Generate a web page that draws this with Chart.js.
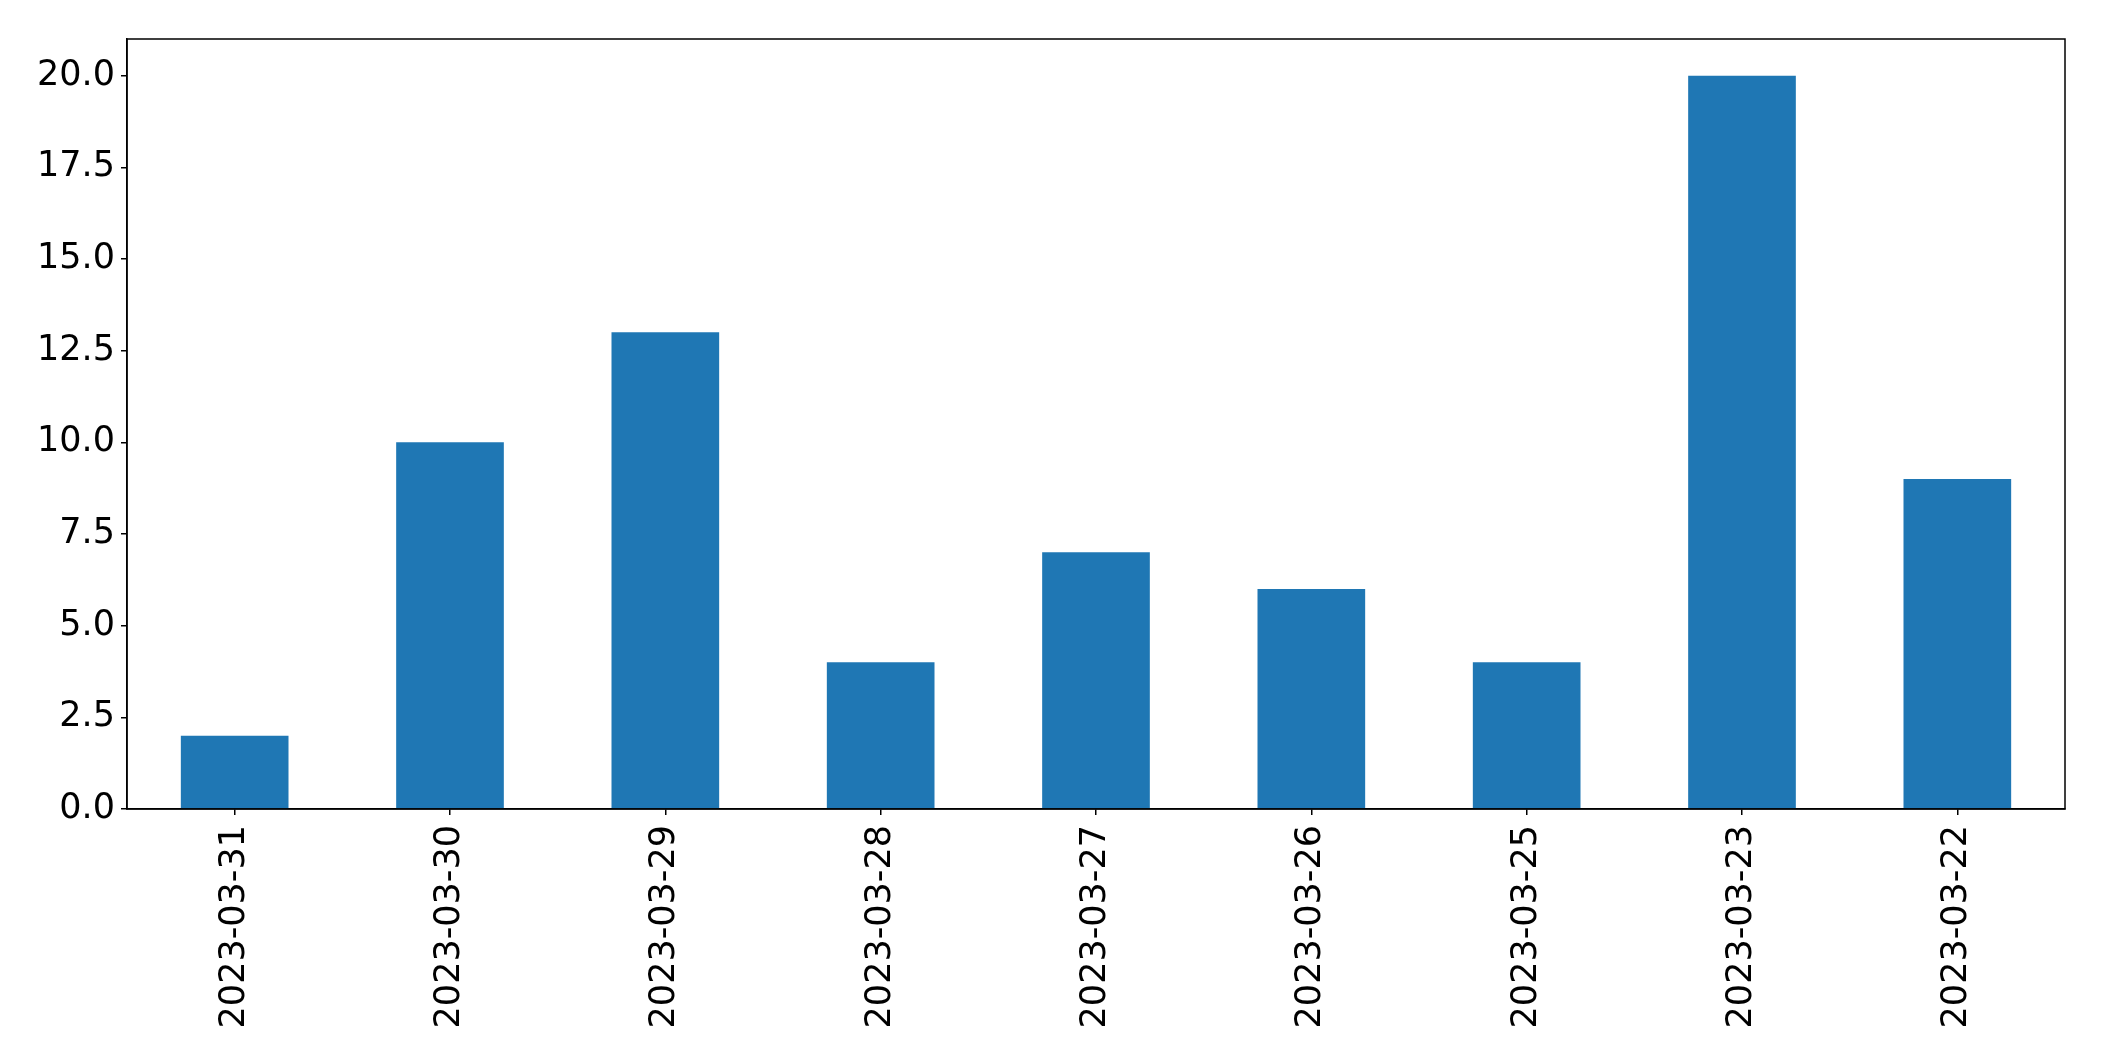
<!DOCTYPE html>
<html>
<head>
<meta charset="utf-8">
<script src="https://cdn.jsdelivr.net/npm/chart.js@4/dist/chart.umd.min.js"></script>
<style>
  html, body { margin: 0; padding: 0; background: #fff; }
  #wrap { width: 2104px; height: 1061px; }
</style>
</head>
<body>
<div id="wrap"><canvas id="insertchart" width="2104" height="1061"></canvas></div>
<script>
var dates = ["2023-03-31", "2023-03-30", "2023-03-29", "2023-03-28", "2023-03-27",
             "2023-03-26", "2023-03-25", "2023-03-23", "2023-03-22"];
var counts = [2, 10, 13, 4, 7, 6, 4, 20, 9];
var yTicks = [0, 2.5, 5, 7.5, 10, 12.5, 15, 17.5, 20];

// box round the plot area, like matplotlib's spines
var frame = {
  id: 'frame',
  afterDraw: function (chart) {
    var a = chart.chartArea, c = chart.ctx;
    c.save();
    c.strokeStyle = '#000';
    c.lineWidth = 1.5;
    c.strokeRect(a.left, a.top, a.right - a.left, a.bottom - a.top);
    c.restore();
  }
};

var ctx = document.getElementById("insertchart").getContext('2d');
var myChart = new Chart(ctx, {
  type: 'bar',
  data: {
    labels: dates,
    datasets: [{
      data: counts,
      backgroundColor: '#1f77b4',
      borderWidth: 0,
      categoryPercentage: 1.0,
      barPercentage: 0.5
    }]
  },
  options: {
    responsive: false,
    animation: false,
    layout: { padding: { top: 39, right: 39, left: 0, bottom: 0 } },
    plugins: { legend: { display: false }, tooltip: { enabled: false } },
    scales: {
      x: {
        grid: { display: true, offset: false, drawOnChartArea: false, tickLength: 6, tickColor: '#000', lineWidth: 1.5 },
        border: { display: true, color: '#000', width: 1.5 },
        ticks: {
          color: '#000',
          font: { family: 'DejaVu Sans', size: 35 },
          maxRotation: 90, minRotation: 90,
          padding: 10,
          autoSkip: false
        },
        afterFit: function (s) { s.height = 1061 - 809; }
      },
      y: {
        min: 0,
        max: 21,
        grid: { display: true, drawOnChartArea: false, tickLength: 6, tickColor: '#000', lineWidth: 1.5 },
        border: { display: true, color: '#000', width: 1.5 },
        ticks: {
          color: '#000',
          font: { family: 'DejaVu Sans', size: 35 },
          padding: 6,
          callback: function (v) { return v.toFixed(1); }
        },
        afterBuildTicks: function (s) {
          s.ticks = yTicks.map(function (v) { return { value: v }; });
        },
        afterFit: function (s) { s.width = 127; }
      }
    }
  },
  plugins: [frame]
});
</script>
</body>
</html>
